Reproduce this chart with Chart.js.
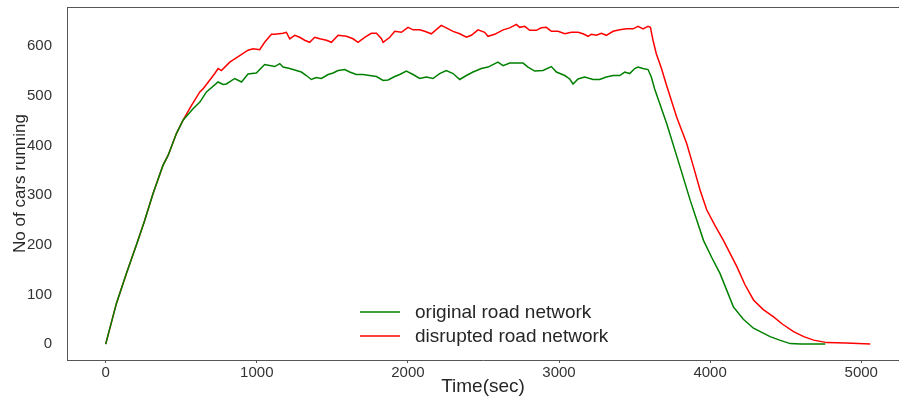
<!DOCTYPE html>
<html>
<head>
<meta charset="utf-8">
<script src="https://cdn.jsdelivr.net/npm/chart.js@4.4.1/dist/chart.umd.min.js"></script>
<style>
    html, body { margin: 0; padding: 0; background: #ffffff; }
    #contenedor { width: 899px; height: 400px; }
</style>
</head>
<body>
<div id="contenedor"><canvas id="grafica" width="899" height="400"></canvas></div>
<script>
// values
const tiempoOriginal = [
    0, 71, 137, 214, 258, 313, 379, 413, 468, 512,
    578, 622, 667, 744, 777, 799, 854, 899, 942, 997,
    1052, 1085, 1119, 1152, 1174, 1218, 1262, 1295, 1328, 1361,
    1394, 1428, 1472, 1505, 1538, 1582, 1615, 1659, 1703, 1747,
    1792, 1836, 1869, 1913, 1946, 1990, 2034, 2078, 2122, 2166,
    2210, 2254, 2299, 2343, 2387, 2431, 2486, 2530, 2596, 2630,
    2674, 2718, 2762, 2795, 2839, 2894, 2949, 2983, 3038, 3071,
    3093, 3126, 3170, 3225, 3269, 3313, 3358, 3402, 3435, 3468,
    3501, 3523, 3556, 3589, 3611, 3633, 3713, 3801, 3868, 3956,
    4010, 4066, 4154, 4220, 4287, 4397, 4460, 4530, 4600, 4762
];
const cochesOriginal = [
    0, 82, 142, 209, 249, 303, 360, 380, 424, 451,
    474, 487, 508, 528, 523, 524, 535, 528, 544, 546,
    563, 561, 559, 565, 558, 555, 551, 548, 541, 533,
    537, 535, 543, 546, 551, 553, 548, 543, 543, 541,
    539, 531, 532, 539, 543, 550, 543, 535, 538, 535,
    545, 551, 545, 533, 541, 548, 555, 558, 568, 561,
    566, 566, 566, 558, 550, 551, 559, 548, 541, 534,
    524, 534, 538, 533, 533, 538, 541, 541, 548, 545,
    555, 558, 555, 553, 538, 514, 444, 357, 290, 209,
    175, 142, 75, 50, 32, 15, 8, 1, 0, 0
];

const tiempoAlterado = [
    0, 71, 137, 214, 258, 313, 379, 413, 468, 512,
    568, 623, 644, 722, 744, 766, 821, 887, 942, 975,
    1019, 1052, 1097, 1119, 1174, 1196, 1218, 1251, 1284, 1317,
    1350, 1383, 1417, 1461, 1494, 1538, 1593, 1637, 1670, 1714,
    1758, 1792, 1825, 1836, 1880, 1913, 1957, 2001, 2034, 2078,
    2111, 2155, 2221, 2254, 2299, 2343, 2387, 2420, 2464, 2508,
    2530, 2574, 2630, 2674, 2718, 2740, 2773, 2806, 2850, 2883,
    2916, 2949, 2994, 3038, 3082, 3126, 3159, 3192, 3214, 3247,
    3280, 3313, 3358, 3402, 3446, 3490, 3523, 3556, 3589, 3605,
    3622, 3644, 3678, 3711, 3779, 3845, 3890, 3934, 3978, 4030,
    4088, 4177, 4230, 4287, 4350, 4420, 4480, 4552, 4620, 4685,
    4773, 4900, 5060
];
const cochesAlterado = [
    0, 82, 142, 209, 249, 303, 360, 380, 424, 451,
    481, 508, 514, 545, 555, 551, 568, 581, 592, 595,
    593, 608, 624, 624, 626, 628, 615, 622, 618, 612,
    608, 618, 615, 612, 608, 622, 620, 615, 608, 618,
    626, 626, 615, 608, 618, 630, 628, 638, 633, 633,
    630, 625, 642, 637, 630, 625, 618, 622, 633, 628,
    620, 624, 633, 637, 644, 638, 640, 632, 632, 637,
    638, 630, 630, 625, 628, 628, 625, 620, 624, 622,
    626, 622, 630, 633, 635, 635, 640, 635, 640, 638,
    612, 585, 555, 522, 457, 404, 357, 310, 270, 240,
    209, 156, 120, 89, 70, 55, 40, 25, 15, 8,
    3, 2, 0
];

const etiquetas = ['original road network', 'disrupted road network'];
const ticksX = [0, 1000, 2000, 3000, 4000, 5000];
const ticksY = [0, 100, 200, 300, 400, 500, 600];

const fuente = 'Liberation Sans, Arial, Helvetica, sans-serif';

function aPuntos(xs, ys) {
    return xs.map((x, i) => ({ x: x, y: ys[i] }));
}

// top spine of the axes box
const bordeSuperior = {
    id: 'bordeSuperior',
    afterDraw(chart) {
        const { ctx, chartArea } = chart;
        ctx.save();
        ctx.strokeStyle = '#555555';
        ctx.lineWidth = 1;
        ctx.beginPath();
        ctx.moveTo(chartArea.left, chartArea.top + 0.5);
        ctx.lineTo(chartArea.right, chartArea.top + 0.5);
        ctx.stroke();
        ctx.restore();
    }
};

// legend sitting inside the plot, lower middle
const leyendaInterna = {
    id: 'leyendaInterna',
    afterDraw(chart) {
        const ctx = chart.ctx;
        ctx.save();
        ctx.font = '19px ' + fuente;
        ctx.textBaseline = 'middle';
        ctx.textAlign = 'left';
        chart.data.datasets.forEach((ds, i) => {
            const y = 312 + i * 24;
            ctx.strokeStyle = ds.borderColor;
            ctx.lineWidth = 1.5;
            ctx.beginPath();
            ctx.moveTo(360, y);
            ctx.lineTo(400, y);
            ctx.stroke();
            ctx.fillStyle = '#262626';
            ctx.fillText(ds.label, 415, y + 1);
        });
        ctx.restore();
    }
};

new Chart(document.getElementById('grafica'), {
    type: 'line',
    data: {
        datasets: [{
            label: etiquetas[0],
            data: aPuntos(tiempoOriginal, cochesOriginal),
            borderColor: '#008000',
            borderWidth: 1.5,
            pointRadius: 0,
            tension: 0,
            fill: false
        }, {
            label: etiquetas[1],
            data: aPuntos(tiempoAlterado, cochesAlterado),
            borderColor: '#ff0000',
            borderWidth: 1.5,
            pointRadius: 0,
            tension: 0,
            fill: false
        }]
    },
    options: {
        responsive: false,
        animation: false,
        devicePixelRatio: 1,
        layout: {
            padding: { top: 7, right: 0, bottom: 0, left: 0 }
        },
        plugins: {
            legend: { display: false },
            tooltip: { enabled: false }
        },
        scales: {
            x: {
                type: 'linear',
                min: -256,
                max: 5250,
                afterBuildTicks: scale => {
                    scale.ticks = ticksX.map(v => ({ value: v }));
                },
                afterFit: scale => {
                    scale.height = 40;
                    scale.paddingLeft = 0;
                    scale.paddingRight = 0;
                },
                grid: {
                    drawOnChartArea: false,
                    drawTicks: true,
                    tickLength: 3,
                    color: '#555555'
                },
                border: { display: true, color: '#555555', width: 1 },
                ticks: {
                    color: '#333333',
                    padding: 1,
                    maxRotation: 0,
                    font: { family: fuente, size: 15 },
                    callback: v => String(v)
                },
                title: {
                    display: true,
                    text: 'Time(sec)',
                    color: '#262626',
                    padding: { top: 0, bottom: 2 },
                    font: { family: fuente, size: 19 }
                }
            },
            y: {
                type: 'linear',
                min: -32,
                max: 679,
                afterBuildTicks: scale => {
                    scale.ticks = ticksY.map(v => ({ value: v }));
                },
                afterFit: scale => {
                    scale.width = 67;
                    scale.paddingTop = 0;
                    scale.paddingBottom = 0;
                },
                grid: { display: false },
                border: { display: true, color: '#555555', width: 1 },
                ticks: {
                    color: '#333333',
                    padding: 7,
                    font: { family: fuente, size: 15 },
                    callback: v => String(v)
                },
                title: {
                    display: true,
                    text: 'No of cars running',
                    color: '#262626',
                    padding: { top: 10, bottom: 0 },
                    font: { family: fuente, size: 17 }
                }
            }
        }
    },
    plugins: [bordeSuperior, leyendaInterna]
});
</script>
</body>
</html>
